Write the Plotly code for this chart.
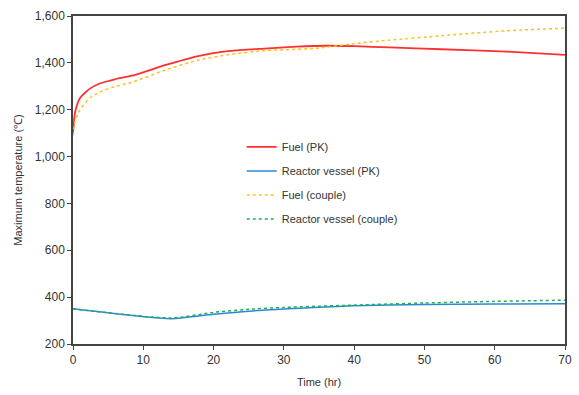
import plotly.graph_objects as go

# Time (hr)
t_fuel_pk = [0, 0.3, 1, 2.4, 3.8, 6.1, 8.4, 13.2, 17.8, 22.4, 27.2, 31.8, 36, 40, 45, 52.4, 61.7, 70]
fuel_pk = [1100, 1190, 1250, 1290, 1312, 1331, 1345, 1391, 1429, 1451, 1461, 1469, 1473, 1471, 1466, 1458, 1448, 1434]

t_vessel_pk = [0, 14, 20, 25, 30, 40, 50, 60, 70]
vessel_pk = [350, 308, 327, 340, 349, 363, 369, 371, 372]

t_fuel_cp = [0, 0.3, 1, 2.4, 3.8, 6.1, 8.4, 13.2, 17.8, 22.4, 27.2, 31.8, 34.6, 40, 45, 52.4, 61.7, 70]
fuel_cp = [1090, 1150, 1200, 1250, 1275, 1300, 1317, 1370, 1412, 1436, 1452, 1458, 1462, 1482, 1497, 1516, 1537, 1548]

t_vessel_cp = [0, 14, 20, 25, 30, 40, 50, 60, 70]
vessel_cp = [350, 311, 335, 348, 356, 366, 375, 382, 387]

x_ticks = [0, 10, 20, 30, 40, 50, 60, 70]
y_ticks = [200, 400, 600, 800, 1000, 1200, 1400, 1600]

fig = go.Figure()
fig.add_trace(go.Scatter(x=t_fuel_pk, y=fuel_pk, mode="lines", name="Fuel (PK)",
                         legendgroup="a", line=dict(color="#ff3030", width=1.8, shape="spline", smoothing=0.6)))
fig.add_trace(go.Scatter(x=t_vessel_pk, y=vessel_pk, mode="lines", name="Reactor vessel (PK)",
                         legendgroup="b", line=dict(color="#2f86d8", width=1.5, shape="spline", smoothing=0.6)))
fig.add_trace(go.Scatter(x=t_fuel_cp, y=fuel_cp, mode="lines", name="Fuel (couple)",
                         legendgroup="c", line=dict(color="#ffc020", width=1.5, dash="dot", shape="spline", smoothing=0.6)))
fig.add_trace(go.Scatter(x=t_vessel_cp, y=vessel_cp, mode="lines", name="Reactor vessel (couple)",
                         legendgroup="d", line=dict(color="#20b050", width=1.5, dash="dot", shape="spline", smoothing=0.6)))

axis_common = dict(showgrid=False, zeroline=False, showline=True, linecolor="#444444", linewidth=1.5,
                   mirror=True, ticks="outside", ticklen=4, tickcolor="#444444",
                   tickfont=dict(family="Liberation Sans, Arial", size=12, color="#333333"))

fig.update_layout(
    width=579, height=395,
    margin=dict(l=73, r=7, t=16, b=51),
    paper_bgcolor="white", plot_bgcolor="white",
    font=dict(family="Liberation Sans, Arial", color="#333333"),
    xaxis=dict(range=[0, 70], tickvals=x_ticks,
               title=dict(text="Time (hr)", font=dict(size=11, color="#333333"), standoff=12),
               **axis_common),
    yaxis=dict(range=[200, 1600], tickvals=y_ticks, tickformat=",d",
               title=dict(text="Maximum temperature (℃)", font=dict(size=11, color="#333333"), standoff=10),
               **axis_common),
    legend=dict(x=0.343, y=0.645, xanchor="left", yanchor="top", bgcolor="rgba(0,0,0,0)",
                font=dict(size=11, color="#333333"), traceorder="grouped", tracegroupgap=5,
                itemwidth=30),
)

fig.write_html("out.html")
